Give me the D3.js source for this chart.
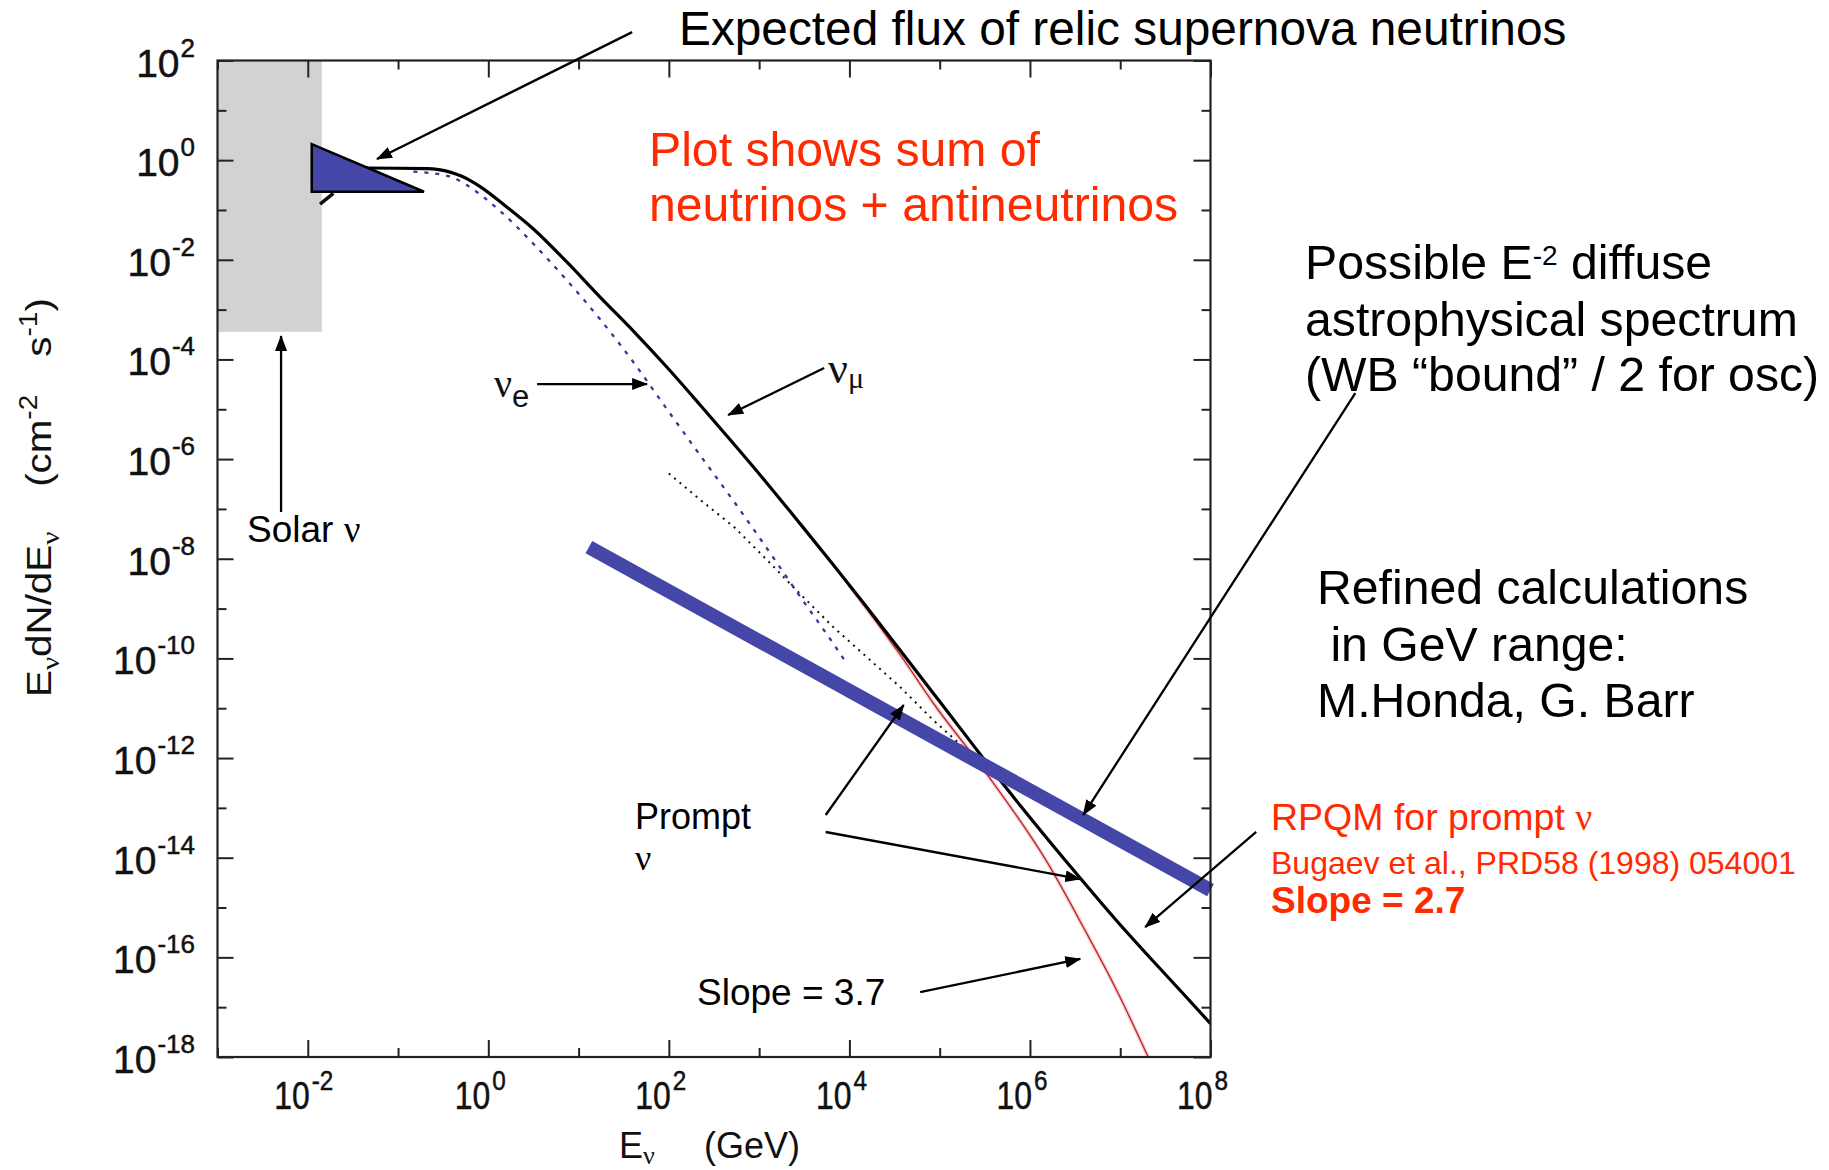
<!DOCTYPE html>
<html>
<head>
<meta charset="utf-8">
<script src="https://cdn.jsdelivr.net/npm/d3@7"></script>
<style>
  html, body { margin: 0; padding: 0; background: #ffffff; }
  svg { display: block; }
</style>
</head>
<body>
<svg id="chart" width="1829" height="1170"></svg>
<script>
// ---------------- data ----------------
// tick labels (powers of ten)
const xTickExponents = [-2, 0, 2, 4, 6, 8];
const yTickExponents = [2, 0, -2, -4, -6, -8, -10, -12, -14, -16, -18];

// atmospheric nu_mu (E in GeV, E dN/dE in cm^-2 s^-1)
const numuEnergy = [0.0355, 0.0450, 0.208, 0.282, 0.377, 0.501, 0.646, 0.811, 1.60, 3.16, 7.40, 17.3, 40.5, 94.8, 222,
  519, 1220, 2840, 6650, 1.56e4, 3.65e4, 8.53e4, 2.0e5, 4.68e5, 1.01e6, 3.92e6, 9.18e6, 2.15e7, 5.02e7, 1.0e8];
const numuFlux = [0.695, 0.695, 0.676, 0.646, 0.575, 0.479, 0.380, 0.295, 0.115, 0.0415, 9.04e-3, 1.79e-3, 3.72e-4, 7.05e-5, 1.22e-5,
  2.05e-6, 3.29e-7, 5.07e-8, 7.48e-9, 1.06e-9, 1.46e-10, 1.98e-11, 2.66e-12, 3.57e-13, 6.27e-14, 3.25e-15, 5.36e-16, 9.70e-17, 1.84e-17, 4.68e-18];

// atmospheric nu_e
const nueEnergy = [0.148, 0.380, 0.575, 1.35, 3.16, 7.41, 17.4, 40.7, 95.5, 224, 525, 1230, 2820, 6610, 9330];
const nueFlux = [0.589, 0.468, 0.316, 0.0955, 0.0209, 3.89e-3, 6.31e-4, 8.71e-5, 1.0e-5, 1.17e-6, 1.41e-7, 1.58e-8, 1.78e-9, 2.0e-10, 7.94e-11];

// prompt neutrinos (RPQM)
const promptEnergy = [100, 224, 525, 1230, 2820, 6610, 1.55e4, 3.63e4, 8.51e4, 1.82e5, 3.98e5];
const promptFlux = [5.13e-7, 1.51e-7, 4.37e-8, 9.33e-9, 2.0e-9, 4.27e-10, 1.07e-10, 2.69e-11, 5.75e-12, 1.66e-12, 4.17e-13];

// conventional nu_mu, steep high-energy tail
const conventionalEnergy = [1.0e4, 2.19e4, 3.63e4, 8.51e4, 3.09e5, 1.66e6, 3.89e6, 9.12e6, 2.04e7];
const conventionalFlux = [2.88e-9, 4.27e-10, 1.20e-10, 1.26e-11, 5.75e-13, 6.61e-15, 4.07e-16, 2.19e-17, 1.0e-18];

// E^-2 diffuse astrophysical spectrum (WB bound / 2)
const diffuseEnergy = [13, 1.0e8];
const diffuseFlux = [1.72e-8, 2.24e-15];

// relic supernova neutrinos
const relicEnergy = [0.01107, 0.01107, 0.194];
const relicFlux = [2.10, 0.232, 0.232];
const relicTailEnergy = [0.01368, 0.01919];
const relicTailFlux = [0.131, 0.215];

// solar neutrino band
const solarEnergy = [1.0e-3, 0.0143];
const solarFlux = [3.58e-4, 1.0e2];

// annotation arrows: [E, flux] of tail and of head
const arrowTails = [[39.2, 371.5], [3.47, 3.21e-5], [5250, 6.73e-5], [5.06e-3, 8.67e-8], [5460, 7.19e-14],
  [5460, 3.28e-14], [6.08e4, 2.01e-17], [4.02e9, 2.12e-5], [3.21e8, 3.28e-14]];
const arrowHeads = [[0.0585, 1.05], [57.4, 3.21e-5], [454, 7.67e-6], [5.06e-3, 2.95e-4], [3.99e4, 1.16e-11],
  [3.61e6, 3.73e-15], [3.61e6, 9.27e-17], [3.89e6, 7.19e-14], [1.89e7, 4.06e-16]];

// ---------------- layout ----------------
const svg = d3.select('#chart');
const plot = { left: 217.5, right: 1210.5, top: 60.5, bottom: 1057 };
const x = d3.scaleLog().domain([1e-3, 1e8]).range([plot.left, plot.right]);
const y = d3.scaleLog().domain([1e2, 1e-18]).range([plot.top, plot.bottom]);

const SANS = "'Liberation Sans', Arial, Helvetica, sans-serif";
const SERIF = "'Liberation Serif', 'Times New Roman', serif";
const RED = '#ff2a00';
const BLUE = '#4547a8';

svg.append('rect').attr('width', 1829).attr('height', 1170).attr('fill', '#ffffff');

const defs = svg.append('defs');
defs.append('clipPath').attr('id', 'plotClip')
  .append('rect')
  .attr('x', plot.left).attr('y', plot.top)
  .attr('width', plot.right - plot.left).attr('height', plot.bottom - plot.top);
defs.append('marker')
  .attr('id', 'arrowhead')
  .attr('viewBox', '0 0 16 12')
  .attr('refX', 15).attr('refY', 6)
  .attr('markerWidth', 16).attr('markerHeight', 12)
  .attr('markerUnits', 'userSpaceOnUse')
  .attr('orient', 'auto')
  .append('path').attr('d', 'M0,0 L16,6 L0,12 Z').attr('fill', '#000');

const zip = (es, fs) => es.map((e, i) => [e, fs[i]]);

// solar band
svg.append('rect')
  .attr('x', x(solarEnergy[0]))
  .attr('y', y(solarFlux[1]))
  .attr('width', x(solarEnergy[1]) - x(solarEnergy[0]))
  .attr('height', y(solarFlux[0]) - y(solarFlux[1]))
  .attr('fill', '#d2d2d2');

const curves = svg.append('g').attr('clip-path', 'url(#plotClip)');
const smooth = d3.line().x(d => x(d[0])).y(d => y(d[1])).curve(d3.curveMonotoneX);
const straight = d3.line().x(d => x(d[0])).y(d => y(d[1]));

// conventional tail (red), drawn first so the total curve covers its start
curves.append('path')
  .attr('d', smooth(zip(conventionalEnergy, conventionalFlux)))
  .attr('fill', 'none').attr('stroke', '#f2b8b8').attr('stroke-width', 4).attr('opacity', 0.6);
curves.append('path')
  .attr('d', smooth(zip(conventionalEnergy, conventionalFlux)))
  .attr('fill', 'none').attr('stroke', '#c0282d').attr('stroke-width', 1.4);

// prompt (dotted)
curves.append('path')
  .attr('d', straight(zip(promptEnergy, promptFlux)))
  .attr('fill', 'none').attr('stroke', '#111').attr('stroke-width', 2)
  .attr('stroke-dasharray', '2,5');

// nu_e (blue dashes)
curves.append('path')
  .attr('d', smooth(zip(nueEnergy, nueFlux)))
  .attr('fill', 'none').attr('stroke', '#36389a').attr('stroke-width', 2.3)
  .attr('stroke-dasharray', '4,7');

// nu_mu (solid black)
curves.append('path')
  .attr('d', smooth(zip(numuEnergy, numuFlux)))
  .attr('fill', 'none').attr('stroke', '#000').attr('stroke-width', 3.2);

// relic tail under the triangle
svg.append('path')
  .attr('d', straight(zip(relicTailEnergy, relicTailFlux)))
  .attr('stroke', '#111').attr('stroke-width', 3.5).attr('fill', 'none');

// relic supernova triangle
svg.append('path')
  .attr('d', straight(zip(relicEnergy, relicFlux)) + 'Z')
  .attr('fill', BLUE).attr('stroke', '#000').attr('stroke-width', 2.6).attr('stroke-linejoin', 'miter');

// E^-2 diffuse line
svg.append('path')
  .attr('d', straight(zip(diffuseEnergy, diffuseFlux)))
  .attr('stroke', BLUE).attr('stroke-width', 14).attr('stroke-linecap', 'butt').attr('fill', 'none');

// ---------------- frame and ticks ----------------
const decades = d3.range(-3, 9).map(e => Math.pow(10, e));
const yDecades = d3.range(-18, 3).map(e => Math.pow(10, e));
const isEven = v => Math.round(Math.log10(v)) % 2 === 0;
const majX = decades.filter(isEven), minX = decades.filter(v => !isEven(v));
const majY = yDecades.filter(isEven), minY = yDecades.filter(v => !isEven(v));

function tickAxis(axisFn, scale, values, size, transform) {
  const g = svg.append('g').attr('transform', transform)
    .call(axisFn(scale).tickValues(values).tickSize(-size).tickFormat(''));
  g.select('.domain').remove();
  g.selectAll('.tick line').attr('stroke', '#222').attr('stroke-width', 2);
}
tickAxis(d3.axisBottom, x, majX, 17, `translate(0,${plot.bottom})`);
tickAxis(d3.axisBottom, x, minX, 9, `translate(0,${plot.bottom})`);
tickAxis(d3.axisTop, x, majX, 17, `translate(0,${plot.top})`);
tickAxis(d3.axisTop, x, minX, 9, `translate(0,${plot.top})`);
tickAxis(d3.axisLeft, y, majY, 16, `translate(${plot.left},0)`);
tickAxis(d3.axisLeft, y, minY, 9, `translate(${plot.left},0)`);
tickAxis(d3.axisRight, y, majY, 17, `translate(${plot.right},0)`);
tickAxis(d3.axisRight, y, minY, 9, `translate(${plot.right},0)`);

svg.append('rect')
  .attr('x', plot.left).attr('y', plot.top)
  .attr('width', plot.right - plot.left).attr('height', plot.bottom - plot.top)
  .attr('fill', 'none').attr('stroke', '#222').attr('stroke-width', 2.2);

// ---------------- tick labels ----------------
yTickExponents.forEach(e => {
  const ty = y(Math.pow(10, e));
  const g = svg.append('g').attr('transform', `translate(195,${ty})`)
    .attr('font-family', SANS).attr('fill', '#111').attr('stroke', '#111').attr('stroke-width', 0.5);
  const sup = g.append('text').attr('text-anchor', 'end').attr('y', -4)
    .attr('font-size', 26).text(String(e));
  const supW = sup.node().getComputedTextLength();
  g.append('text').attr('text-anchor', 'end').attr('x', -supW - 1).attr('y', 16)
    .attr('font-size', 39).text('10');
});
xTickExponents.forEach(e => {
  const tx = x(Math.pow(10, e));
  const g = svg.append('g').attr('transform', `translate(${tx},0)`)
    .attr('font-family', SANS).attr('fill', '#111').attr('stroke', '#111').attr('stroke-width', 0.5);
  g.append('text').attr('text-anchor', 'end').attr('y', 1109)
    .attr('font-size', 38).attr('transform', 'translate(2,0) scale(0.84,1)').text('10');
  g.append('text').attr('text-anchor', 'start').attr('y', 1090)
    .attr('font-size', 27).attr('transform', 'translate(4,0) scale(0.9,1)').text(String(e));
});

// ---------------- axis titles ----------------
const xTitle = svg.append('text').attr('font-family', SANS).attr('font-size', 36).attr('fill', '#111')
  .attr('x', 619).attr('y', 1158);
xTitle.append('tspan').text('E');
xTitle.append('tspan').attr('font-family', SERIF).attr('font-size', 26).attr('dy', 6).text('ν');
xTitle.append('tspan').attr('x', 704).attr('dy', -6).text('(GeV)');

const yTitle = svg.append('text').attr('font-family', SANS).attr('font-size', 36).attr('fill', '#111')
  .attr('text-anchor', 'start');
yTitle.append('tspan').text('E');
yTitle.append('tspan').attr('font-family', SERIF).attr('font-size', 26).attr('dy', 8).text('ν');
yTitle.append('tspan').attr('dy', -8).text('dN/dE');
yTitle.append('tspan').attr('font-family', SERIF).attr('font-size', 26).attr('dy', 8).text('ν');
yTitle.append('tspan').attr('dy', -8).attr('dx', 40).text('(cm');
yTitle.append('tspan').attr('font-size', 25).attr('dy', -14).text('-2');
yTitle.append('tspan').attr('dy', 14).attr('dx', 34).text('s');
yTitle.append('tspan').attr('font-size', 25).attr('dy', -14).text('-1');
yTitle.append('tspan').attr('dy', 14).text(')');
const yTitleBox = yTitle.node().getBBox();
const yStretch = (697 - 298) / yTitleBox.width;
yTitle.attr('transform', `translate(51,697) rotate(-90) scale(${yStretch},1) translate(${-yTitleBox.x},0)`);

// ---------------- curve labels ----------------
const nuE = svg.append('text').attr('font-family', SERIF).attr('font-size', 40).attr('fill', '#111')
  .attr('x', 494).attr('y', 397);
nuE.append('tspan').text('ν');
nuE.append('tspan').attr('font-family', SANS).attr('font-size', 31).attr('dy', 10).text('e');

const nuMu = svg.append('text').attr('font-family', SERIF).attr('font-size', 44).attr('fill', '#111')
  .attr('x', 828).attr('y', 383);
nuMu.append('tspan').text('ν');
nuMu.append('tspan').attr('font-size', 30).attr('dy', 5).text('μ');

// ---------------- annotations ----------------
function label(xp, yp, parts, size, color, weight) {
  const t = svg.append('text').attr('x', xp).attr('y', yp)
    .attr('font-family', SANS).attr('font-size', size).attr('fill', color || '#000')
    .attr('font-weight', weight || 'normal');
  parts.forEach(p => {
    const s = t.append('tspan').text(p.t);
    if (p.serif) s.attr('font-family', SERIF);
    if (p.size) s.attr('font-size', p.size);
    if (p.dy) s.attr('dy', p.dy);
    if (p.x !== undefined) s.attr('x', p.x);
  });
  return t;
}
const BIG = 48.2;
label(679, 45, [{ t: 'Expected flux of relic supernova neutrinos' }], 47.8);
label(649, 166, [{ t: 'Plot shows sum of' }], BIG, RED);
label(649, 221, [{ t: 'neutrinos + antineutrinos' }], BIG, RED);
label(1305, 279, [{ t: 'Possible E' }, { t: '-2', size: 28, dy: -14 }, { t: ' diffuse', dy: 14 }], BIG);
label(1305, 336, [{ t: 'astrophysical spectrum' }], BIG);
label(1305, 391, [{ t: '(WB \u201Cbound\u201D / 2 for osc)' }], BIG);
label(1317, 604, [{ t: 'Refined calculations' }], BIG);
label(1317, 661, [{ t: '\u00A0in GeV range:' }], BIG);
label(1317, 717, [{ t: 'M.Honda, G. Barr' }], BIG);

label(247, 542, [{ t: 'Solar ' }, { t: 'ν', serif: true }], 37);
label(635, 829, [{ t: 'Prompt' }], 36);
label(635, 870, [{ t: 'ν', serif: true }], 36);
label(697, 1005, [{ t: 'Slope = 3.7' }], 37);

label(1271, 830, [{ t: 'RPQM for prompt ' }, { t: 'ν', serif: true }], 37.5, RED);
label(1271, 874, [{ t: 'Bugaev et al., PRD58 (1998) 054001' }], 32, RED);
label(1271, 913, [{ t: 'Slope = 2.7' }], 37, RED, 'bold');

// arrows
svg.append('g').selectAll('line')
  .data(arrowTails.map((t, i) => [t, arrowHeads[i]]))
  .join('line')
  .attr('x1', d => x(d[0][0])).attr('y1', d => y(d[0][1]))
  .attr('x2', d => x(d[1][0])).attr('y2', d => y(d[1][1]))
  .attr('stroke', '#000').attr('stroke-width', 2.3)
  .attr('marker-end', 'url(#arrowhead)');
</script>
</body>
</html>
